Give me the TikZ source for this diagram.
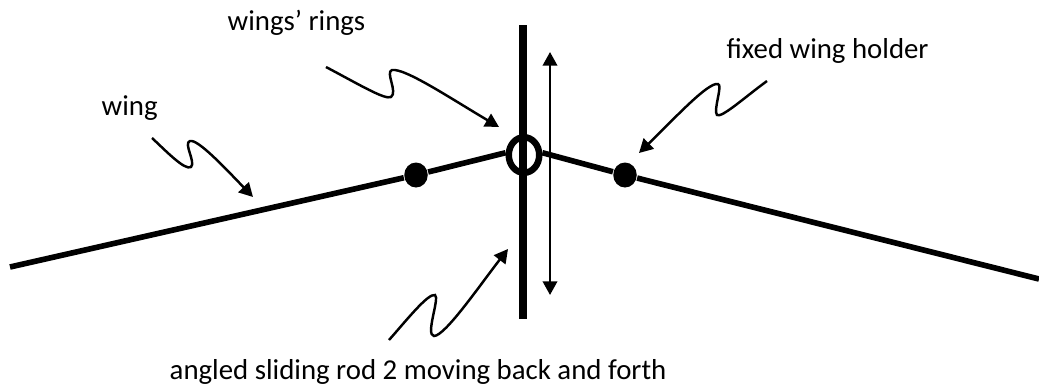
\documentclass[tikz,border=0pt]{standalone}
\usepackage{fontspec}
\setmainfont{Carlito}
\usetikzlibrary{arrows.meta,shapes.geometric}
\tikzset{
  wingline/.style={line width=1.6pt},
  rodline/.style={line width=2.3pt},
  ringnode/.style={draw, ellipse, line width=1.85pt, minimum width=3.05mm, minimum height=3.55mm, inner sep=0pt},
  pivot/.style={fill, ellipse, minimum width=2.35mm, minimum height=2.5mm, inner sep=0pt},
  lead/.style={-{Triangle[length=3.9pt,width=4.1pt]}, line width=0.7pt},
  travel/.style={{Triangle[length=3.9pt,width=4.1pt]}-{Triangle[length=3.9pt,width=4.1pt]}, line width=0.7pt},
  lbl/.style={font=\fontsize{8.2}{10}\selectfont, inner sep=0pt, anchor=base west},
}
\begin{document}
\begin{tikzpicture}[x=0.1mm,y=-0.1mm]
  \useasboundingbox (0,0) rectangle (1039,386);
  \node[ringnode] (ring) at (524,155) {};
  \node[pivot] (dotL) at (416,175) {};
  \node[pivot] (dotR) at (625,175) {};
  \coordinate (wingL) at (10,267);
  \coordinate (wingR) at (1039,279);
  \coordinate (rodT) at (523,25);
  \coordinate (rodB) at (523,319);
  \coordinate (travelT) at (550,52);
  \coordinate (travelB) at (550,295);

  \draw[rodline] (rodT) -- (rodB);
  \draw[wingline] (wingL) -- (dotL) -- (ring.173);
  \draw[wingline] (wingR) -- (dotR) -- (ring.7);
  \draw[travel] (travelT) -- (travelB);

  \node[lbl] (lblrings) at (227,30) {wings’ rings};
  \node[lbl] (lblwing) at (101,115) {wing};
  \node[lbl] (lblholder) at (726,58) {fixed wing holder};
  \node[lbl] (lblrod) at (169,379) {angled sliding rod 2 moving back and forth};

  \coordinate (s1) at (326,67);
  \coordinate (t1) at (499,127);
  \draw[lead] (s1) .. controls (360,85) and (385,100) .. (391,97)
    .. controls (398,92) and (385,72) .. (392,70)
    .. controls (405,68) and (450,98) .. (t1);
  \coordinate (s2) at (152,138);
  \coordinate (t2) at (253,197);
  \draw[lead] (s2) .. controls (165,150) and (185,171) .. (191,167)
    .. controls (196,162) and (183,143) .. (190,141)
    .. controls (198,139) and (225,168) .. (t2);
  \coordinate (s3) at (767,81);
  \coordinate (t3) at (639,153);
  \draw[lead] (s3) .. controls (745,97) and (722,118) .. (717,115)
    .. controls (713,110) and (723,85) .. (718,84)
    .. controls (708,82) and (675,118) .. (t3);
  \coordinate (s4) at (389,340);
  \coordinate (t4) at (508,249);
  \draw[lead] (s4) .. controls (405,322) and (428,293) .. (435,295)
    .. controls (440,298) and (425,335) .. (434,336)
    .. controls (445,336) and (480,285) .. (t4);
\end{tikzpicture}
\end{document}
